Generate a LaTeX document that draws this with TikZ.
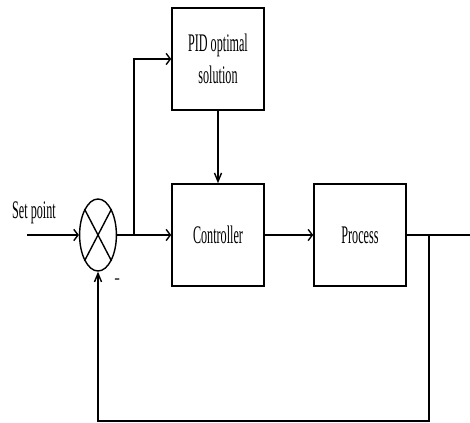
\documentclass[tikz,border=0pt]{standalone}
\usepackage{fontspec}
\setmainfont{Liberation Serif}
\usetikzlibrary{arrows.meta,shapes.geometric}
\newcommand{\narrowtxt}[1]{\scalebox{0.48}[1]{#1}}

\begin{document}
\begin{tikzpicture}[x=1cm, y=1cm,
    blockbox/.style={draw, line width=1.1pt, minimum width=2.3cm, minimum height=2.55cm,
      inner sep=0pt, align=center, font=\fontsize{18}{22.5}\selectfont},
    wire/.style={line width=1pt},
    hlink/.style={wire, -{Straight Barb[length=3pt,width=8pt]}},
    vlink/.style={wire, -{Straight Barb[length=6pt,width=5pt]}}]
  \useasboundingbox (0,0) rectangle (11.75,10.575);
  %
  \node[draw, ellipse, line width=1pt, minimum width=0.92cm, minimum height=1.8cm,
    inner sep=0pt] (sum) at (2.45,4.7) {};   % summing junction
  \draw[wire] (sum.north west) -- (sum.south east);
  \draw[wire] (sum.north east) -- (sum.south west);
  %
  \node[blockbox] (pid)  at (5.45,9.1) {\narrowtxt{PID optimal}\\\narrowtxt{solution}};
  \node[blockbox] (ctrl) at (5.45,4.7) {\narrowtxt{Controller}};
  \node[blockbox] (proc) at (9.0,4.7)  {\narrowtxt{Process}};
  %
  \node[font=\fontsize{18}{20}\selectfont] (splabel) at (0.85,5.25) {\narrowtxt{Set point}};
  \node[font=\fontsize{12}{14}\selectfont] (minus) at (2.93,3.55) {-};
  %
  \coordinate (sp)     at (0.675,4.7);
  \coordinate (branch) at (3.35,4.7);
  \coordinate (tap)    at (10.725,4.7);
  \coordinate (out)    at (11.75,4.7);
  \coordinate (corner) at (10.725,0.05);
  %
  \draw[hlink] (sp) -- (sum.west);
  \draw[hlink] (sum.east) -- (ctrl.west);
  \draw[hlink] (branch) |- (pid.west);
  \draw[vlink] (pid.south) -- (ctrl.north);
  \draw[hlink] (ctrl.east) -- (proc.west);
  \draw[wire]  (proc.east) -- (out);
  \draw[vlink] (tap) -- (corner) -| (sum.south);   % feedback
\end{tikzpicture}
\end{document}
